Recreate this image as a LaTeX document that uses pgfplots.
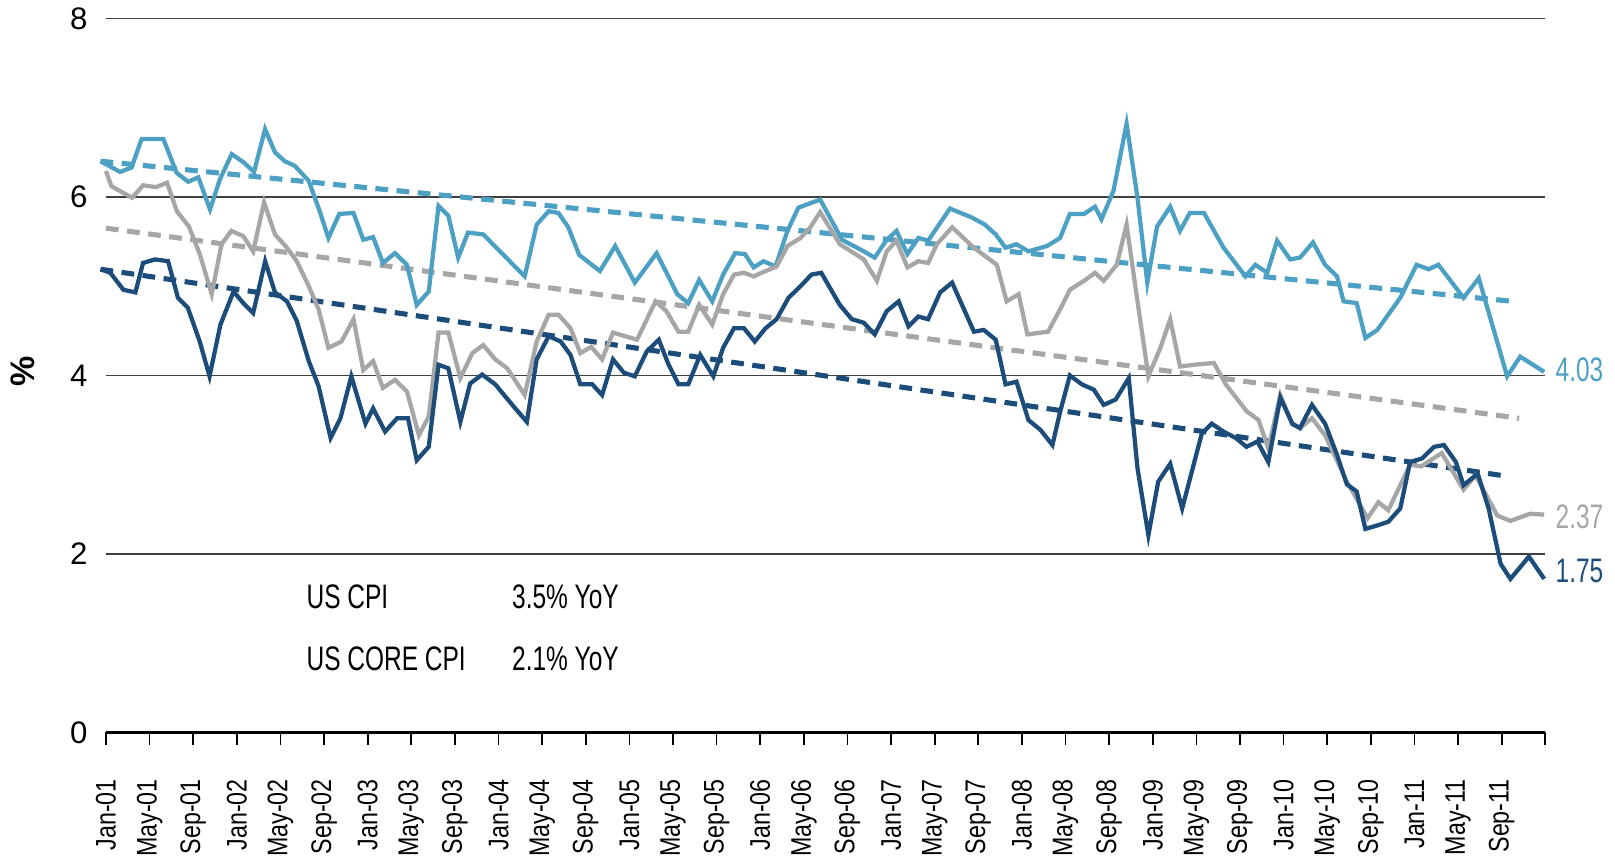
\documentclass[border=0pt]{standalone}
\usepackage{fontspec}
\setmainfont{Liberation Sans}
\newfontfamily\narrow[FakeStretch=0.72]{Liberation Sans}
\newfontfamily\ticknarrow[FakeStretch=0.82]{Liberation Sans}
\usepackage{pgfplots}
\pgfplotsset{compat=1.18}

\definecolor{cpilight}{RGB}{75,160,196}
\definecolor{cpigray}{RGB}{166,166,166}
\definecolor{cpidark}{RGB}{28,77,122}

\begin{document}
\begin{tikzpicture}
\begin{axis}[
    width=508pt, height=252pt, scale only axis,
    xmin=0, xmax=132, ymin=0, ymax=8,
    clip=false,
    axis x line*=bottom, axis y line*=left,
    y axis line style={draw=none},
    x axis line style={black, line width=0.8pt},
    ytick={0,2,4,6,8},
    ytick style={draw=none},
    ymajorgrids=true,
    grid style={black!75, line width=0.5pt},
    yticklabel style={font=\fontsize{11}{13}\selectfont, xshift=-3pt},
    /pgf/number format/assume math mode=true,
    xtick={0,4,...,132},
    xticklabels={Jan-01,May-01,Sep-01,Jan-02,May-02,Sep-02,Jan-03,May-03,Sep-03,Jan-04,May-04,Sep-04,Jan-05,May-05,Sep-05,Jan-06,May-06,Sep-06,Jan-07,May-07,Sep-07,Jan-08,May-08,Sep-08,Jan-09,May-09,Sep-09,Jan-10,May-10,Sep-10,Jan-11,May-11,Sep-11,{}},
    xticklabel style={rotate=90, anchor=east, font=\ticknarrow\fontsize{10}{11}\selectfont},
    xticklabel shift=8.5pt,
    xtick align=outside,
    major tick length=4.5pt,
    xtick style={black, line width=0.6pt},
]
% trend lines
\addplot[cpilight, line width=1.8pt, dash pattern=on 4.5pt off 3pt] coordinates {(-0.5,6.40) (129.0,4.83)};
\addplot[cpigray, line width=1.8pt, dash pattern=on 4.5pt off 3pt] coordinates {(0,5.65) (129.6,3.52)};
\addplot[cpidark, line width=1.8pt, dash pattern=on 4.5pt off 3pt] coordinates {(-0.5,5.19) (128.5,2.87)};

% light blue series
\addplot[cpilight, line width=1.5pt] coordinates {
(-0.5,6.40) (1.3,6.28) (2.35,6.33) (3.27,6.65) (5.26,6.65) (6.48,6.27) (7.55,6.17) (8.47,6.22)
(9.54,5.86) (10.46,6.20) (11.53,6.48) (12.6,6.39) (13.58,6.28) (14.59,6.76) (15.5,6.50) (16.4,6.40)
(17.3,6.35) (18.6,6.18) (19.6,5.84) (20.4,5.54) (21.4,5.81) (22.7,5.82) (23.6,5.52) (24.5,5.55)
(25.4,5.26) (26.5,5.37) (27.6,5.24) (28.5,4.79) (29.6,4.94) (30.5,5.90) (31.4,5.79) (32.3,5.32)
(33.2,5.60) (34.6,5.58) (38.4,5.11) (39.5,5.69) (40.6,5.84) (41.5,5.82) (42.4,5.66) (43.4,5.35)
(45.3,5.17) (46.7,5.45) (48.5,5.04) (50.5,5.37) (52.4,4.91) (53.4,4.81) (54.4,5.07) (55.6,4.83)
(56.6,5.13) (57.7,5.37) (58.6,5.36) (59.4,5.21) (60.3,5.28) (61.4,5.22) (62.5,5.62) (63.5,5.88)
(65.5,5.97) (67.5,5.52) (69.5,5.39) (70.5,5.32) (71.6,5.52) (72.5,5.62) (73.5,5.36) (74.5,5.54)
(75.4,5.51) (77.4,5.87) (79.4,5.77) (80.6,5.69) (81.6,5.58) (82.5,5.43) (83.5,5.47) (84.6,5.39)
(86.3,5.45) (87.5,5.54) (88.4,5.81) (89.7,5.81) (90.7,5.89) (91.3,5.75) (92.4,6.07) (93.6,6.82)
(94.6,5.99) (95.5,5.04) (96.4,5.67) (97.6,5.89) (98.5,5.62) (99.4,5.82) (100.7,5.82) (102.5,5.43)
(104.5,5.11) (105.4,5.24) (106.5,5.15) (107.4,5.51) (108.6,5.30) (109.5,5.32) (110.7,5.49) (111.8,5.24)
(112.9,5.11) (113.5,4.83) (114.7,4.81) (115.5,4.42) (116.6,4.51) (118.7,4.87) (120.2,5.24) (121.3,5.19)
(122.2,5.24) (124.5,4.87) (125.9,5.09) (128.5,3.99) (129.7,4.21) (131.9,4.04)
};

% gray series
\addplot[cpigray, line width=1.5pt] coordinates {
(0,6.29) (0.5,6.12) (2.4,5.99) (3.4,6.13) (4.6,6.11) (5.6,6.16) (6.5,5.84) (7.6,5.67)
(8.6,5.36) (9.7,4.91) (10.6,5.47) (11.5,5.62) (12.6,5.56) (13.5,5.39) (14.5,5.94) (15.5,5.58)
(16.6,5.43) (17.5,5.28) (18.6,5.00) (19.5,4.74) (20.4,4.31) (21.6,4.38) (22.7,4.63) (23.6,4.06)
(24.5,4.16) (25.4,3.86) (26.5,3.95) (27.6,3.82) (28.7,3.33) (29.6,3.54) (30.5,4.48) (31.4,4.48)
(32.5,3.97) (33.6,4.25) (34.6,4.34) (35.7,4.18) (36.8,4.08) (38.4,3.78) (39.5,4.38) (40.6,4.68)
(41.5,4.68) (42.6,4.53) (43.5,4.25) (44.5,4.32) (45.5,4.18) (46.5,4.48) (48.7,4.40) (50.4,4.83)
(51.4,4.72) (52.5,4.49) (53.4,4.49) (54.4,4.79) (55.6,4.57) (56.6,4.91) (57.6,5.13) (58.5,5.15)
(59.4,5.11) (60.5,5.17) (61.5,5.22) (62.5,5.45) (63.7,5.54) (64.6,5.66) (65.5,5.83) (67.3,5.47)
(69.5,5.30) (70.7,5.06) (71.6,5.39) (72.5,5.51) (73.5,5.21) (74.5,5.28) (75.4,5.26) (76.2,5.47)
(77.6,5.66) (79.6,5.43) (81.7,5.24) (82.6,4.83) (83.7,4.91) (84.5,4.46) (86.4,4.49) (87.5,4.74)
(88.4,4.96) (89.7,5.06) (90.7,5.15) (91.5,5.06) (92.7,5.24) (93.6,5.69) (94.6,4.83) (95.6,3.99)
(96.7,4.31) (97.6,4.63) (98.5,4.10) (99.8,4.12) (101.6,4.14) (102.7,3.90) (104.6,3.60) (105.7,3.50)
(106.6,3.18) (107.7,3.78) (108.8,3.45) (109.5,3.41) (110.6,3.52) (111.8,3.33) (113.8,2.81) (115.7,2.40)
(116.7,2.58) (117.6,2.49) (119.6,3.00) (120.6,2.98) (122.5,3.13) (124.5,2.72) (125.6,2.88) (127.6,2.43)
(128.8,2.37) (130.6,2.45) (131.9,2.44)
};

% dark blue series
\addplot[cpidark, line width=1.5pt] coordinates {
(-0.5,5.19) (0.4,5.15) (1.6,4.96) (2.7,4.93) (3.4,5.26) (4.5,5.30) (5.7,5.28) (6.6,4.87)
(7.5,4.76) (8.6,4.38) (9.5,3.99) (10.5,4.57) (11.7,4.94) (12.6,4.81) (13.5,4.70) (14.6,5.28)
(15.5,4.93) (16.6,4.83) (17.5,4.61) (18.6,4.16) (19.5,3.88) (20.6,3.30) (21.5,3.52) (22.5,3.99)
(23.8,3.46) (24.5,3.63) (25.6,3.37) (26.7,3.52) (27.7,3.52) (28.5,3.05) (29.6,3.20) (30.5,4.12)
(31.4,4.08) (32.5,3.48) (33.4,3.91) (34.5,4.01) (35.7,3.90) (37.4,3.65) (38.6,3.48) (39.5,4.18)
(40.6,4.44) (41.7,4.38) (42.6,4.23) (43.5,3.90) (44.6,3.90) (45.5,3.78) (46.5,4.18) (47.5,4.03)
(48.5,3.99) (49.6,4.27) (50.7,4.40) (51.6,4.12) (52.5,3.90) (53.4,3.90) (54.5,4.23) (55.7,3.99)
(56.6,4.31) (57.6,4.53) (58.5,4.53) (59.5,4.38) (60.5,4.53) (61.5,4.63) (62.6,4.87) (63.7,5.00)
(64.7,5.13) (65.6,5.15) (67.3,4.79) (68.4,4.63) (69.5,4.59) (70.5,4.46) (71.6,4.72) (72.7,4.83)
(73.6,4.55) (74.5,4.66) (75.4,4.63) (76.5,4.93) (77.6,5.04) (79.6,4.49) (80.5,4.51) (81.6,4.40)
(82.5,3.90) (83.5,3.93) (84.6,3.50) (85.7,3.39) (86.8,3.22) (87.5,3.59) (88.4,4.00) (89.5,3.90)
(90.6,3.84) (91.5,3.67) (92.6,3.73) (93.8,3.97) (94.6,2.96) (95.6,2.21) (96.5,2.81) (97.6,3.01)
(98.7,2.51) (100.5,3.35) (101.4,3.46) (102.5,3.37) (103.6,3.30) (104.6,3.20) (105.6,3.26) (106.6,3.03)
(107.7,3.75) (108.8,3.46) (109.5,3.41) (110.6,3.67) (111.8,3.46) (112.9,3.11) (113.8,2.78) (114.7,2.70)
(115.5,2.28) (116.6,2.32) (117.6,2.36) (118.7,2.51) (119.6,3.03) (120.7,3.07) (121.8,3.20) (122.7,3.22)
(123.8,3.03) (124.5,2.77) (125.8,2.90) (126.8,2.51) (127.9,1.89) (128.8,1.72) (130.5,1.97) (131.9,1.72)
};

% end labels
\node[anchor=west, inner sep=0pt, text=cpilight, font=\narrow\fontsize{12}{14}\selectfont] at (axis cs:132.9,4.06) {4.03};
\node[anchor=west, inner sep=0pt, text=cpigray, font=\narrow\fontsize{12}{14}\selectfont] at (axis cs:132.9,2.42) {2.37};
\node[anchor=west, inner sep=0pt, text=cpidark, font=\narrow\fontsize{12}{14}\selectfont] at (axis cs:132.9,1.81) {1.75};

% annotation
\node[anchor=west, inner sep=0pt, font=\narrow\fontsize{12}{14}\selectfont] at (axis cs:18.35,1.52) {US CPI};
\node[anchor=west, inner sep=0pt, font=\narrow\fontsize{12}{14}\selectfont] at (axis cs:37.2,1.52) {3.5\% YoY};
\node[anchor=west, inner sep=0pt, font=\narrow\fontsize{12}{14}\selectfont] at (axis cs:18.35,0.83) {US CORE CPI};
\node[anchor=west, inner sep=0pt, font=\narrow\fontsize{12}{14}\selectfont] at (axis cs:37.2,0.83) {2.1\% YoY};

% y label
\node[rotate=90, font=\bfseries\fontsize{12}{14}\selectfont] at ([xshift=-29.4pt]rel axis cs:0,0.506) {\%};
\end{axis}
\pgfresetboundingbox
\path[use as bounding box] (-37.4pt,-46.6pt) rectangle (532.6pt,258.5pt);
\end{tikzpicture}
\end{document}
